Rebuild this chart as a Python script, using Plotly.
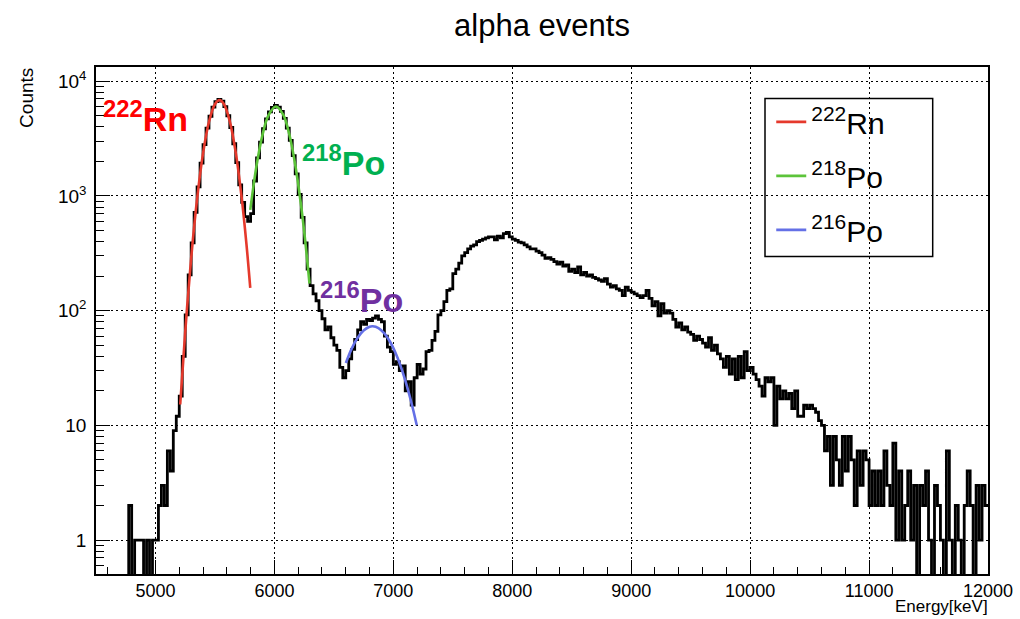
import plotly.graph_objects as go

# ---------------- data ----------------
bin_start = 4500      # keV, first bin lower edge
bin_width = 25        # keV
counts = [
    0, 0, 0, 0, 0, 0, 0, 0, 0, 0,                      # 4500
    0, 2, 0, 1, 1, 1, 0, 1, 0, 1,                      # 4750
    1, 2, 3, 2, 6, 4, 9, 12, 18, 40,                   # 5000
    92, 205, 390, 720, 1200, 1930, 2800, 3900, 4950, 5950,   # 5250
    6650, 6950, 6700, 6000, 5000, 3950, 2850, 1950, 1250, 880,  # 5500
    660, 600, 700, 1350, 2150, 2950, 3850, 4700, 5400, 5900,   # 5750
    6150, 5950, 5450, 4750, 3900, 3050, 2250, 1560, 1030, 650,  # 6000
    390, 230, 165, 140, 122, 100, 85, 68, 72, 58,      # 6250
    50, 45, 32, 26, 30, 38, 46, 56, 68, 80,            # 6500
    76, 84, 82, 86, 90, 84, 80, 60, 48, 44,            # 6750
    34, 36, 30, 33, 20, 24, 15, 26, 34, 28,            # 7000
    31, 44, 45, 55, 66, 92, 100, 120, 150, 155,        # 7250
    210, 230, 260, 300, 320, 345, 365, 375, 400, 410,  # 7500
    420, 430, 440, 440, 415, 445, 430, 470, 480, 440,  # 7750
    420, 410, 395, 390, 375, 360, 345, 345, 330, 320,  # 8000
    305, 285, 290, 280, 268, 255, 265, 245, 250, 220,  # 8250
    230, 215, 240, 205, 215, 200, 205, 195, 190, 185,  # 8500
    180, 190, 170, 160, 165, 155, 150, 135, 160, 150,  # 8750
    145, 140, 135, 130, 135, 150, 128, 110, 120, 90,   # 9000
    115, 95, 100, 95, 84, 72, 78, 68, 72, 65,          # 9250
    62, 55, 60, 56, 52, 48, 58, 45, 50, 42,            # 9500
    38, 32, 40, 28, 38, 25, 40, 26, 44, 30,            # 9750
    32, 28, 25, 22, 18, 26, 24, 26, 10, 22,            # 10000
    17, 20, 17, 19, 14, 20, 12, 12, 15, 14,            # 10250
    15, 14, 13, 11, 10, 6, 8, 3, 8, 5,                 # 10500
    3, 8, 4, 8, 5, 2, 6, 3, 6, 5,                      # 10750
    2, 4, 2, 4, 2, 6, 3, 2, 7, 1,                      # 11000
    4, 1, 2, 4, 1, 3, 0, 3, 2, 4,                      # 11250
    1, 0, 3, 2, 1, 0, 6, 1, 0, 2,                      # 11500
    1, 0, 2, 4, 2, 0, 3, 1, 3, 2,                      # 11750
]

# fit curves
rn222_fit_e = [5208, 5250, 5300, 5350, 5400, 5450, 5500, 5538, 5575, 5625, 5675, 5725, 5765, 5797]
rn222_fit_y = [15.2, 65, 285, 942, 2350, 4430, 6310, 6840, 6335, 4473, 2386, 961, 380, 158]

po218_fit_e = [5797, 5850, 5900, 5950, 6013, 6075, 6125, 6175, 6225, 6260, 6295]
po218_fit_y = [755, 1845, 3410, 5050, 6026, 5078, 3446, 1873, 814, 398, 172]

po216_fit_e = [6601, 6650, 6700, 6750, 6800, 6826, 6875, 6925, 6975, 7025, 7075, 7125, 7165, 7197]
po216_fit_y = [35, 46.7, 58, 67, 72.3, 73, 70.5, 63.3, 53, 41.2, 29.8, 20.1, 13.9, 10]

series_names = ["<sup>222</sup>Rn", "<sup>218</sup>Po", "<sup>216</sup>Po"]
fit_colors = ["#e5392c", "#5cc43a", "#6470e6"]
label_colors = ["#ff0000", "#00b050", "#7030a0"]

x_ticks = [5000, 6000, 7000, 8000, 9000, 10000, 11000, 12000]
x_ticktext = ["5000", "6000", "7000", "8000", "9000", "10000", "11000", "12000"]
y_ticks = [1, 10, 100, 1000, 10000]
y_ticktext = ["1", "10", "10<sup>2</sup>", "10<sup>3</sup>", "10<sup>4</sup>"]
y_minor = [m * d for d in (0.1, 1, 10, 100, 1000) for m in range(2, 10) if m * d >= 0.55]

FONT = "Liberation Sans, Arial, Helvetica, sans-serif"

# ---------------- figure ----------------
edges = [bin_start + bin_width * i for i in range(len(counts) + 1)]
y_hist = [c if c > 0 else 0.05 for c in counts]
y_hist = y_hist + [y_hist[-1]]

fig = go.Figure()
fig.add_trace(go.Scatter(x=edges, y=y_hist, mode="lines", line=dict(color="black", width=2.8, shape="hv"),
                         showlegend=False, hoverinfo="skip"))

for e, y, name, col in zip([rn222_fit_e, po218_fit_e, po216_fit_e],
                           [rn222_fit_y, po218_fit_y, po216_fit_y],
                           series_names, fit_colors):
    fig.add_trace(go.Scatter(x=e, y=y, mode="lines", name=name, legendgroup=name,
                             line=dict(color=col, width=2.6, shape="spline", smoothing=1)))

axis_common = dict(showline=True, linecolor="black", linewidth=1.5, mirror=True,
                   ticks="inside", tickcolor="black", tickwidth=1.2,
                   showgrid=True, gridcolor="black", gridwidth=1.2, griddash="2px,3px",
                   zeroline=False, automargin=False)

fig.update_xaxes(range=[4500, 12000], tickmode="array", tickvals=x_ticks, ticktext=x_ticktext,
                 ticklen=14, tickfont=dict(family=FONT, size=18, color="black"),
                 minor=dict(ticks="inside", ticklen=7, tick0=4600, dtick=200, tickcolor="black",
                            tickwidth=1.2, showgrid=False),
                 **axis_common)
fig.update_yaxes(type="log", range=[-0.296, 4.124], tickmode="array", tickvals=y_ticks,
                 ticktext=y_ticktext, ticklen=14, ticklabelstandoff=4,
                 tickfont=dict(family=FONT, size=19, color="black"),
                 minor=dict(ticks="inside", ticklen=8, tickmode="array", tickvals=y_minor,
                            tickcolor="black", tickwidth=1.2, showgrid=False),
                 **axis_common)

# legend frame (white box hides gridlines)
fig.add_shape(type="rect", xref="paper", yref="paper", x0=0.75, x1=0.938, y0=0.626, y1=0.938,
              line=dict(color="black", width=1.5), fillcolor="white", layer="between")

# peak labels
label_pos = [(4540, 3.69), (6215, 3.31), (6365, 2.115)]
label_texts = ["<b><sup>222</sup>Rn</b>", "<b><sup>218</sup>Po</b>", "<b><sup>216</sup>Po</b>"]
for (lx, ly), txt, col in zip(label_pos, label_texts, label_colors):
    fig.add_annotation(x=lx, y=ly, xref="x", yref="y", text=txt, showarrow=False,
                       xanchor="left", yanchor="middle",
                       font=dict(family=FONT, size=34, color=col))

fig.add_annotation(text="Counts", xref="paper", yref="paper", x=-0.078, y=1.003,
                   xanchor="center", yanchor="top", textangle=-90, showarrow=False,
                   font=dict(family=FONT, size=19, color="black"))
fig.add_annotation(text="Energy[keV]", xref="paper", yref="paper", x=1.002, y=-0.0867,
                   xanchor="right", yanchor="bottom", showarrow=False,
                   font=dict(family=FONT, size=17, color="black"))

fig.update_layout(
    width=1020, height=619,
    margin=dict(l=96, r=32, t=67, b=45),
    paper_bgcolor="white", plot_bgcolor="white",
    title=dict(text="alpha events", x=0.5, xref="paper", xanchor="center",
               y=1 - 25 / 619, yref="container", yanchor="middle",
               font=dict(family=FONT, size=31, color="black")),
    legend=dict(x=0.757, y=0.943, xanchor="left", yanchor="top", bgcolor="rgba(0,0,0,0)",
                borderwidth=0, font=dict(family=FONT, size=30, color="black"),
                itemwidth=30, tracegroupgap=12),
    showlegend=True,
)

fig.write_html("out.html", config={"displayModeBar": False},
               post_script="document.body.style.margin='0';document.body.style.padding='0';")
